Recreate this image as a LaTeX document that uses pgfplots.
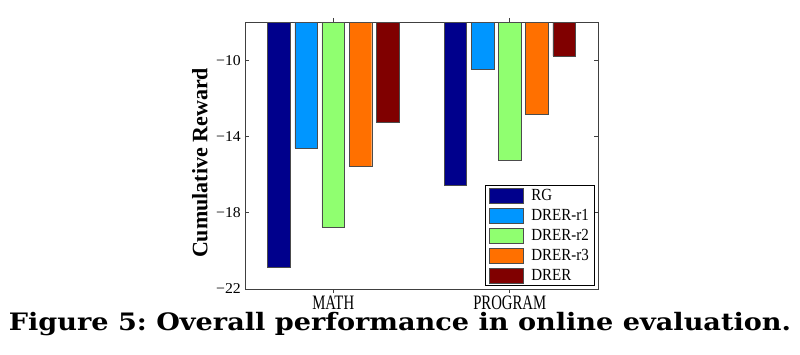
\documentclass[border=0pt]{standalone}
\usepackage{fontspec}
\usepackage{pgfplots}
\pgfplotsset{compat=1.18}
\setmainfont{Liberation Serif}
\newfontfamily\tickfont[FakeStretch=0.72]{Liberation Serif}
\newfontfamily\legfont[FakeStretch=0.88]{Liberation Serif}
\newfontfamily\yfont[FakeStretch=1.05]{Liberation Serif}
\newfontfamily\capfont[FakeStretch=1.13]{DejaVu Serif}
\definecolor{cRG}{RGB}{0,0,140}
\definecolor{cR1}{RGB}{0,150,255}
\definecolor{cR2}{RGB}{144,255,112}
\definecolor{cR3}{RGB}{255,112,0}
\definecolor{cDR}{RGB}{128,0,0}
\begin{document}
\frenchspacing
\begin{tikzpicture}
\useasboundingbox (0,0) rectangle (800pt,354pt);
\begin{axis}[
  at={(245pt,65pt)}, anchor=south west,
  scale only axis, width=353pt, height=267pt,
  xmin=-0.5, xmax=1.5, ymin=-22, ymax=-8,
  xtick={0,1}, xticklabels={MATH,PROGRAM},
  ytick={-22,-18,-14,-10}, yticklabels={−22,−18,−14,−10},
  tick align=inside, tick pos=both,
  major tick length=4pt,
  xticklabel style={font=\tickfont\fontsize{20.5}{22}\selectfont, text depth=0pt, inner sep=1pt, yshift=-1.5pt},
  yticklabel style={font=\yfont\fontsize{15}{16}\selectfont, inner sep=1pt, xshift=-3pt},
  ylabel={Cumulative Reward},
  ylabel style={font=\bfseries\fontsize{22}{24}\selectfont, at={(axis description cs:-0.1275,0.472)}, anchor=center},
  axis line style={black!75, line width=0.9pt},
  every tick/.style={black!75, line width=0.7pt},
  ybar, bar width=0.128,
  legend style={at={(rel axis cs:0.992,0.011)}, anchor=south east, font=\legfont\fontsize{17}{18}\selectfont, draw=black, line width=0.9pt, inner xsep=4pt, inner ysep=2pt, row sep=3.2pt, column sep=6pt, cells={anchor=west}},
  legend image code/.code={\draw[#1, line width=0.4pt, draw=black!70] (0pt,-7.5pt) rectangle (34pt,7.5pt);},
  legend cell align=left,
]
\addplot[fill=cRG, draw=black!70, bar shift=-0.308] coordinates {(0,-20.88) (1,-16.54)};
\addplot[fill=cR1, draw=black!70, bar shift=-0.154] coordinates {(0,-14.60) (1,-10.46)};
\addplot[fill=cR2, draw=black!70, bar shift=0] coordinates {(0,-18.76) (1,-15.25)};
\addplot[fill=cR3, draw=black!70, bar shift=0.154] coordinates {(0,-15.55) (1,-12.83)};
\addplot[fill=cDR, draw=black!70, bar shift=0.308] coordinates {(0,-13.27) (1,-9.77)};
\legend{RG,DRER-r1,DRER-r2,DRER-r3,DRER}
\end{axis}
\node[anchor=base, font=\capfont\bfseries\fontsize{24}{26}\selectfont, inner sep=0pt] at (400pt,24pt) {Figure 5: Overall performance in online evaluation.};
\end{tikzpicture}
\end{document}
